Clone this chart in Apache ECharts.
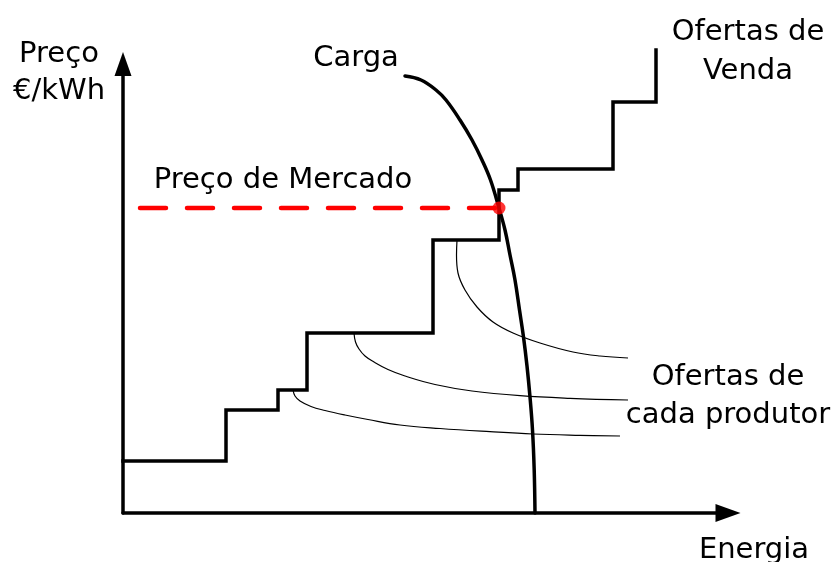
<!DOCTYPE html>
<html>
<head>
<meta charset="utf-8">
<title>Preço de Mercado</title>
<script src="https://cdn.jsdelivr.net/npm/echarts@6/dist/echarts.min.js"></script>
<style>
  html, body { margin: 0; padding: 0; background: #fff; }
  #chart { width: 834px; height: 562px; }
</style>
</head>
<body>
<div id="chart"></div>
<script>
// curva de ofertas de venda (degraus): energia acumulada e preço de cada degrau
const offerEnergy = [0, 103, 155, 184, 310, 376, 395, 490, 533];
const offerPrice = [52, 103, 123, 180, 273, 323, 344, 411, 463];

// curva da carga (procura)
const loadEnergy = [282, 298, 313, 323, 337, 349, 359, 367.5, 376, 382, 387, 392, 396.5, 400.5, 404, 407, 409.5, 411.2, 412];
const loadPrice = [437, 433, 423, 413, 393, 373, 353, 333, 305, 283, 258, 233, 203, 176, 147, 116, 83, 43, 0];

// preço de mercado (cruzamento)
const marketStart = 17;
const marketEnergy = 376;
const marketPrice = 305;

// linhas finas "ofertas de cada produtor"
const prod1Energy = [334, 333.5, 335, 342, 354, 370, 390, 417, 450, 477, 505];
const prod1Price = [273, 258, 240, 223, 206, 191, 180, 170, 161, 157, 155];
const prod2Energy = [231, 232.5, 236, 242, 251, 265, 282, 312, 349, 397, 447, 505];
const prod2Price = [180, 171, 164, 157, 151, 143.5, 137, 128.5, 122, 117.3, 114.7, 113];
const prod3Energy = [170, 172, 177, 188, 202, 222, 245, 277, 317, 367, 410, 457, 497];
const prod3Price = [123, 117, 112, 106.5, 102.5, 98, 93.5, 88, 84.5, 81.3, 79, 77.7, 77];

const zip = (xs, ys) => xs.map((x, i) => [x, ys[i]]);

const font = '"DejaVu Sans", sans-serif';
const fs = 29;

function label(text, x, y, lh) {
  return {
    type: 'text',
    x: x,
    y: y,
    style: {
      text: text,
      font: fs + 'px ' + font,
      fill: '#000',
      align: 'center',
      verticalAlign: 'middle',
      lineHeight: lh || fs
    }
  };
}

const thin = {color: '#000', width: 1.2};
const heavy = {color: '#000', width: 3.5};

const option = {
  animation: false,
  backgroundColor: '#fff',
  grid: {left: 123, right: 106, top: 64, bottom: 49},
  xAxis: {
    type: 'value',
    min: 0,
    max: 605,
    axisLine: {
      show: true,
      lineStyle: heavy,
      symbol: ['none', 'triangle'],
      symbolSize: [18, 25]
    },
    axisTick: {show: false},
    axisLabel: {show: false},
    splitLine: {show: false}
  },
  yAxis: {
    type: 'value',
    min: 0,
    max: 449,
    axisLine: {
      show: true,
      lineStyle: heavy,
      symbol: ['none', 'triangle'],
      symbolSize: [17, 24]
    },
    axisTick: {show: false},
    axisLabel: {show: false},
    splitLine: {show: false}
  },
  graphic: [
    label('Preço\n€/kWh', 59, 73, 37),
    label('Carga', 356, 58),
    label('Preço de Mercado', 283, 180),
    label('Ofertas de\nVenda', 748, 52, 39),
    label('Ofertas de\ncada produtor', 728, 396, 38),
    label('Energia', 754, 550)
  ],
  series: [
    {
      name: 'produtor 1',
      type: 'line',
      smooth: 0.4,
      symbol: 'none',
      clip: false,
      lineStyle: thin,
      data: zip(prod1Energy, prod1Price)
    },
    {
      name: 'produtor 2',
      type: 'line',
      smooth: 0.4,
      symbol: 'none',
      clip: false,
      lineStyle: thin,
      data: zip(prod2Energy, prod2Price)
    },
    {
      name: 'produtor 3',
      type: 'line',
      smooth: 0.4,
      symbol: 'none',
      clip: false,
      lineStyle: thin,
      data: zip(prod3Energy, prod3Price)
    },
    {
      name: 'Ofertas de Venda',
      type: 'line',
      step: 'end',
      symbol: 'none',
      clip: false,
      lineStyle: {color: '#000', width: 3.5, join: 'miter', cap: 'square'},
      data: zip(offerEnergy, offerPrice)
    },
    {
      name: 'Carga',
      type: 'line',
      smooth: 0.4,
      symbol: 'none',
      clip: false,
      lineStyle: {color: '#000', width: 3.5, cap: 'round'},
      data: zip(loadEnergy, loadPrice)
    },
    {
      name: 'Preço de Mercado',
      type: 'line',
      symbol: 'none',
      clip: false,
      z: 3,
      lineStyle: {color: '#ff0000', width: 4.5, type: [26, 21], cap: 'round'},
      data: [[marketStart, marketPrice], [marketEnergy, marketPrice]]
    },
    {
      name: 'equilíbrio',
      type: 'scatter',
      symbol: 'circle',
      symbolSize: 13,
      z: 4,
      itemStyle: {color: '#ff0000'},
      data: [[marketEnergy, marketPrice]]
    }
  ]
};

const chart = echarts.init(document.getElementById('chart'));
chart.setOption(option);
</script>
</body>
</html>
